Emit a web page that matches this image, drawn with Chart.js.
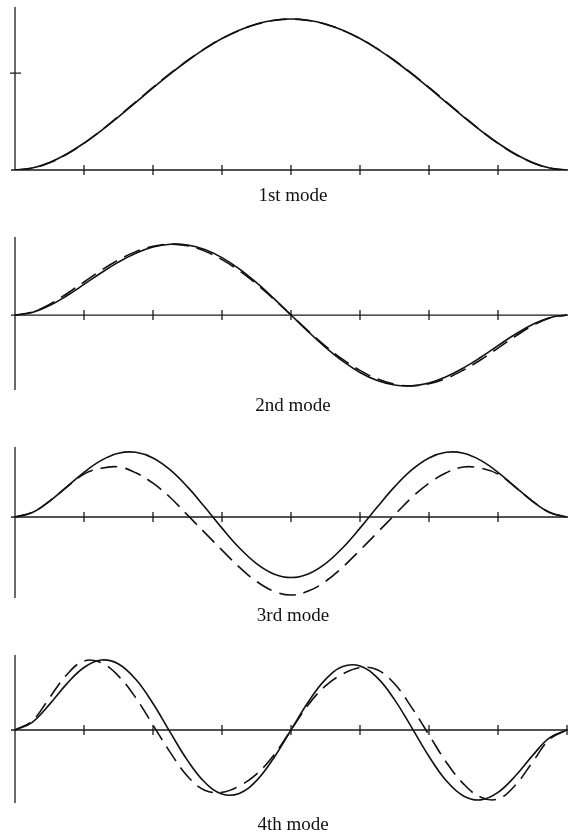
<!DOCTYPE html>
<html>
<head>
<meta charset="utf-8">
<script src="https://cdn.jsdelivr.net/npm/chart.js@4.4.1/dist/chart.umd.min.js"></script>
<style>
html,body{margin:0;padding:0;background:#fff;}
#page{position:relative;width:568px;height:835px;overflow:hidden;}
.panel{position:absolute;left:0;width:568px;}
.label{position:absolute;left:0;width:586px;text-align:center;font-family:"Liberation Serif","Times New Roman",serif;font-size:19px;line-height:19px;color:#111;}
</style>
</head>
<body>
<div id="page"></div>
<script>
// positions along the beam (0..8)
const xs = [0,0.25,0.5,0.75,1,1.25,1.5,1.75,2,2.25,2.5,2.75,3,3.25,3.5,3.75,4,
  4.25,4.5,4.75,5,5.25,5.5,5.75,6,6.25,6.5,6.75,7,7.25,7.5,7.75,8];

const mode1Solid = [0,0.013,0.050,0.106,0.178,0.261,0.352,0.448,0.544,0.637,0.724,0.803,0.871,0.926,0.967,0.992,1.000,
  0.992,0.967,0.926,0.871,0.803,0.724,0.637,0.544,0.448,0.352,0.261,0.178,0.106,0.050,0.013,0];
const mode1Dashed = [0,0.012,0.048,0.104,0.177,0.262,0.355,0.451,0.547,0.640,0.726,0.804,0.871,0.925,0.966,0.991,1.000,
  0.991,0.966,0.925,0.871,0.804,0.726,0.640,0.547,0.451,0.355,0.262,0.177,0.104,0.048,0.012,0];

const mode2Solid = [0,0.037,0.133,0.271,0.431,0.595,0.745,0.870,0.957,0.997,0.986,0.923,0.809,0.650,0.455,0.234,0,
  -0.234,-0.455,-0.650,-0.809,-0.923,-0.986,-0.997,-0.957,-0.870,-0.745,-0.595,-0.431,-0.271,-0.133,-0.037,0];
const mode2Dashed = [0,0.040,0.150,0.300,0.465,0.630,0.775,0.893,0.968,0.998,0.975,0.900,0.780,0.625,0.437,0.225,0,
  -0.225,-0.437,-0.625,-0.780,-0.900,-0.975,-0.998,-0.968,-0.893,-0.775,-0.630,-0.465,-0.300,-0.150,-0.040,0];

const mode3Solid = [0,0.069,0.241,0.464,0.688,0.871,0.981,0.995,0.908,0.724,0.463,0.153,-0.171,-0.473,-0.717,-0.876,-0.931,
  -0.876,-0.717,-0.473,-0.171,0.153,0.463,0.724,0.908,0.995,0.981,0.871,0.688,0.464,0.241,0.069,0];
const mode3Dashed = [0,0.070,0.245,0.460,0.660,0.750,0.770,0.680,0.520,0.300,0.030,-0.240,-0.510,-0.770,-0.990,-1.140,-1.200,
  -1.140,-0.990,-0.770,-0.510,-0.240,0.030,0.300,0.520,0.680,0.770,0.750,0.660,0.460,0.245,0.070,0];

const mode4Solid = [0,0.110,0.366,0.658,0.892,0.999,0.943,0.724,0.378,-0.034,-0.434,-0.747,-0.915,-0.906,-0.723,-0.400,0,
  0.400,0.723,0.906,0.915,0.747,0.434,0.034,-0.378,-0.724,-0.943,-0.999,-0.892,-0.658,-0.366,-0.110,0];
const mode4Dashed = [0,0.130,0.460,0.790,0.985,0.960,0.770,0.460,0.070,-0.320,-0.660,-0.860,-0.890,-0.800,-0.630,-0.360,0,
  0.360,0.630,0.800,0.890,0.860,0.660,0.320,-0.070,-0.460,-0.770,-0.960,-0.985,-0.790,-0.460,-0.130,0];

const modeLabels = ["1st mode","2nd mode","3rd mode","4th mode"];
const solidSeries = [mode1Solid, mode2Solid, mode3Solid, mode4Solid];
const dashedSeries = [mode1Dashed, mode2Dashed, mode3Dashed, mode4Dashed];
const xTickValues = [1,2,3,4,5,6,7];
const xTickValuesLast = [1,2,3,4,5,6,7,8];
const yTickValues1 = [0.642];

// y ranges of each panel
const yMins = [0,-1.056,-1.246,-1.043];
const yMaxs = [1.08,1.099,1.077,1.071];

// layout: canvas top, height, padding top, padding bottom, label top
const panelTops = [0,225,435,645];
const panelHeights = [185,175,175,170];
const padTops = [7,12,12,10];
const padBottoms = [15,10,12,12];
const labelTops = [185,395,605,814];

const axesPlugin = {
  id:"modeAxes",
  beforeDatasetsDraw(chart, args, opts){
    const {ctx, chartArea, scales:{x,y}} = chart;
    const x0 = x.getPixelForValue(0), y0 = y.getPixelForValue(0);
    ctx.save();
    ctx.strokeStyle = "#1a1a1a";
    ctx.lineWidth = 1.3;
    ctx.beginPath();
    ctx.moveTo(x0, chartArea.top); ctx.lineTo(x0, chartArea.bottom);
    ctx.moveTo(x0-4, y0); ctx.lineTo(x.getPixelForValue(8)+1, y0);
    (opts.xTicks||[]).forEach(v=>{
      const px = x.getPixelForValue(v);
      ctx.moveTo(px, y0-5); ctx.lineTo(px, y0+5);
    });
    (opts.yTicks||[]).forEach(v=>{
      const py = y.getPixelForValue(v);
      ctx.moveTo(x0-5, py); ctx.lineTo(x0+6, py);
    });
    ctx.stroke();
    ctx.restore();
  }
};

const page = document.getElementById("page");

modeLabels.forEach((label,i)=>{
  const wrap = document.createElement("div");
  wrap.className = "panel";
  wrap.style.top = panelTops[i]+"px";
  wrap.style.height = panelHeights[i]+"px";
  const canvas = document.createElement("canvas");
  wrap.appendChild(canvas);
  page.appendChild(wrap);

  const lbl = document.createElement("div");
  lbl.className = "label";
  lbl.style.top = labelTops[i]+"px";
  lbl.textContent = label;
  page.appendChild(lbl);

  new Chart(canvas.getContext("2d"),{
    type:"line",
    data:{
      labels:xs,
      datasets:[
        {
          label:"solid",
          data:xs.map((x,k)=>({x:x,y:solidSeries[i][k]})),
          borderColor:"#111",
          borderWidth:1.6,
          pointRadius:0,
          tension:0.4,
          fill:false
        },
        {
          label:"dashed",
          data:xs.map((x,k)=>({x:x,y:dashedSeries[i][k]})),
          borderColor:"#111",
          borderWidth:1.6,
          borderDash:[17,8],
          pointRadius:0,
          tension:0.4,
          fill:false
        }
      ]
    },
    options:{
      responsive:true,
      maintainAspectRatio:false,
      animation:false,
      layout:{padding:{left:15,right:1,top:padTops[i],bottom:padBottoms[i]}},
      plugins:{
        legend:{display:false},
        tooltip:{enabled:false},
        modeAxes:{
          xTicks: i===3 ? xTickValuesLast : xTickValues,
          yTicks: i===0 ? yTickValues1 : []
        }
      },
      scales:{
        x:{type:"linear",min:0,max:8,display:false},
        y:{min:yMins[i],max:yMaxs[i],display:false}
      }
    },
    plugins:[axesPlugin]
  });
});
</script>
</body>
</html>
